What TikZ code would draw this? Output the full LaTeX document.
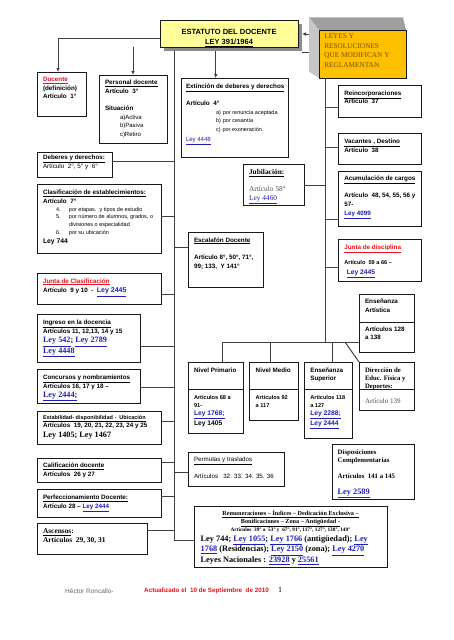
\documentclass[tikz,border=0pt]{standalone}
\usepackage{fontspec}
\setmainfont{Liberation Serif}
\newfontfamily\arial{Liberation Sans}
\usetikzlibrary{arrows.meta}
\definecolor{ttlfill}{HTML}{FFFF99}
\definecolor{org}{HTML}{FFC000}
\definecolor{brn}{HTML}{7A5000}
\definecolor{lnk}{HTML}{1F1FB4}
\definecolor{rdc}{HTML}{E3141B}
\definecolor{lnc}{HTML}{404040}
\definecolor{gtx}{HTML}{505050}
\newcommand\fsb[1]{\arial\bfseries\fontsize{6.3}{#1}\selectfont}
\newcommand\fsz[1]{\fontsize{#1}{#1}\selectfont}
\newcommand\lk[1]{\textcolor{lnk}{\underline{#1}}}
\newcommand\rdl[1]{\textcolor{rdc}{\underline{#1}}}
\newcommand\fLS{\rmfamily\bfseries\fontsize{8.2}{9}\selectfont}
\newcommand\bx[5]{\node[boxst, anchor=north west, minimum width={(#4-#2)*1pt}, minimum height={(#5-#3)*1pt}] (#1) at (#2,#3) {};}
\begin{document}
\begin{tikzpicture}[x=1pt,y=-1pt,
  boxst/.style={draw=black!90, line width=1pt, fill=white, inner sep=0pt, outer sep=0pt},
  divl/.style={draw=black!90, line width=1pt},
  conn/.style={draw=lnc, line width=1pt},
  arr/.style={conn, -{Latex[length=4pt,width=3.6pt]}},
  txt/.style={anchor=north west, inner sep=0pt, outer sep=0pt, align=left}]
\useasboundingbox (0,0) rectangle (453,640);
\fill[white] (0,0) rectangle (453,640);

% title
\fill[gray!90] (164,24) rectangle (302,51);
\node[boxst, fill=ttlfill, anchor=north west, minimum width=138pt, minimum height=27pt] (ttl) at (160,20) {};
\node[anchor=north, inner sep=0pt, align=center, font={\arial\bfseries\fontsize{7.5}{10}\selectfont}] (t-ttl) at (229,29.5) {ESTATUTO DEL DOCENTE\\\underline{LEY 391/1964}};

% leyes 3D box
\fill[gray!75] (309,17.3) -- (403,17.3) -- (406,30) -- (319,30) -- cycle;
\fill[gray!45] (309,17.3) -- (319,30) -- (319,78) -- (309,71.7) -- cycle;
\node[boxst, fill=org, anchor=north west, minimum width=87pt, minimum height=48pt] (leyes) at (319,30) {};
\node[txt, text=brn, font={\rmfamily\fontsize{7.3}{9.9}\selectfont}] (t-ley) at (324.3,33.3) {LEYES Y\\RESOLUCIONES\\QUE MODIFICAN Y\\REGLAMENTAN};

% boxes
\bx{doc}{37}{72}{86}{116}
\bx{pers}{99}{75}{167}{143}
\bx{ext}{181}{78}{288}{157}
\bx{deb}{37}{152}{112}{177}
\bx{clas}{37}{184}{161}{253}
\bx{junc}{37}{273}{161}{304}
\bx{ing}{37}{314}{140}{362}
\bx{conc}{37}{369}{140}{403}
\bx{estab}{37}{411}{161}{444}
\bx{calif}{37}{458}{161}{482}
\bx{perf}{37}{489}{161}{517}
\bx{asc}{37}{523}{147}{554}
\bx{esc}{188}{232}{263}{287}
\bx{jub}{243}{164}{304}{205}
\bx{rein}{338}{85}{421}{117}
\bx{vac}{338}{133}{421}{164}
\bx{acum}{338}{171}{421}{226}
\bx{jdis}{338}{239}{421}{281}
\bx{art}{359}{294}{414}{352}
\bx{dir}{359}{362}{414}{410}
\bx{prim}{188}{362}{243}{433}
\bx{med}{249}{362}{298}{420}
\bx{sup}{304}{362}{352}{438}
\bx{perm}{188}{452}{284}{486}
\bx{disp}{332}{444}{414}{499}
\bx{rem}{194}{506}{387}{567}

% dividers
\draw[divl] (art.west |- 0,322) -- (art.east |- 0,322);
\foreach \nm in {dir,prim,med,sup} \draw[divl] (\nm.west |- 0,389) -- (\nm.east |- 0,389);

% connectors: top
\draw[arr] (ttl.west |- 0,38) -| ([xshift=-3.5pt]doc.north);
\coordinate (PA) at (133,47);
\draw[arr] (PA) -- (pers.north);
\coordinate (EA) at (215.7,51);
\draw[arr] (EA) -- (EA |- ext.north);
\coordinate (LA) at (309,34);
\coordinate (TS) at (302,34);
\draw[arr] (LA) -- (TS);
\coordinate (LB1) at (302,52);
\coordinate (LB2) at (309,52);
\draw[conn] (LB1) -- (LB2);

% left trunk
\coordinate (LT) at (174,51);
\coordinate (LBt) at (174,540);
\draw[conn] (LT) -- (LBt) -- (rem.west |- LBt);
\foreach \nm/\yy in {deb/161, clas/216, junc/294, ing/346, conc/387, estab/421, calif/462, perf/496, asc/530}
  \draw[conn] (\nm.east |- 0,\yy) -- (LT |- 0,\yy);
\foreach \nm/\yy in {esc/247, perm/472}
  \draw[conn] (LT |- 0,\yy) -- (\nm.west |- 0,\yy);

% right trunk
\coordinate (RT) at (325,78);
\coordinate (RB) at (325,342);
\draw[conn] (RT) -- (RB);
\foreach \nm/\yy in {rein/107, vac/147, acum/219, jdis/267}
  \draw[conn] (RT |- 0,\yy) -- (\nm.west |- 0,\yy);
\draw[conn] (jub.east |- 0,185) -- (RT |- 0,185);
\coordinate (H1) at (222,342);
\coordinate (H2) at (270,342);
\coordinate (H3) at (332,342);
\coordinate (H4) at (345,342);
\draw[conn] (H1) -- (art.west |- H1);
\draw[conn] (H1) -- (H1 |- prim.north);
\draw[conn] (H2) -- (H2 |- med.north);
\draw[conn] (H3) -- (H3 |- sup.north);
\draw[conn] (H4) -- (dir.north west);

% texts
\node[txt, font=\fsb{8.4}] (t-doc) at (43,77.6) {\rdl{Docente}\\(definición)\\Artículo\ \ 1°};
\node[txt, font=\fsb{8.6}] (t-pers) at (105,80.3) {\underline{Personal docente}\\Artículo\ \ 3°\\[8.6pt]Situación\\\hspace*{15pt}{\mdseries\fsz{6}a)Activa}\\\hspace*{15pt}{\mdseries\fsz{6}b)Pasiva}\\\hspace*{15pt}{\mdseries\fsz{6}c)Retiro}};
\node[txt, font=\fsb{8.4}] (t-ext) at (186,84.3) {\underline{Extinción de deberes y derechos}\\[8.6pt]Artículo\ \ 4°\\{\mdseries\fsz{5.5}\hspace*{30pt}a)\hspace{2pt}por renuncia aceptada}\\{\mdseries\fsz{5.5}\hspace*{30pt}b)\hspace{2pt}por cesantía}\\{\mdseries\fsz{5.5}\hspace*{30pt}c)\hspace{2pt}por exoneración.}\\[1.9pt]{\mdseries\fsz{6}\lk{Ley 4448}}};
\node[txt, font=\fsb{9.4}] (t-deb) at (43,154.9) {\underline{Deberes y derechos:}\\{\mdseries Artículo\ \ 2°, 5° y\ \ 6°}};
\node[txt, font=\fsb{8.5}] (t-clas) at (43,189.9) {\underline{Clasificación de establecimientos:}\\Artículo\ \ 7°\\[-0.2pt]{\mdseries\fsz{5.5}\hspace*{13pt}\makebox[13pt][l]{4.}por etapas.\ \ y tipos de estudio}\\[-1pt]{\mdseries\fsz{5.5}\hspace*{13pt}\makebox[13pt][l]{5.}por número de alumnos, grados, o}\\[-0.5pt]{\mdseries\fsz{5.5}\hspace*{26pt}divisiones o especialidad}\\[-0.9pt]{\mdseries\fsz{5.5}\hspace*{13pt}\makebox[13pt][l]{6.}por su ubicación}\\[0.5pt]{\fsz{6.8}Ley 744}};
\node[txt, font=\fsb{9.7}] (t-junc) at (43,278.6) {\rdl{Junta de Clasificación}\\Artículo\ \ 9 y 10\ \ -\ \ {\fsz{7}\lk{Ley 2445}}};
\node[txt, font=\fsb{8.9}] (t-ing) at (43,319.9) {\underline{Ingreso en la docencia}\\Artículos 11, 12,13, 14 y 15\\[0.4pt]{\fLS\lk{Ley 542}; \lk{Ley 2789}}\\[0.4pt]{\fLS\lk{Ley 4448}}};
\node[txt, font=\fsb{9}] (t-conc) at (43,374.6) {\underline{Concursos y nombramientos}\\Artículos 16, 17 y 18 –\\[0.3pt]{\fLS\lk{Ley 2444;}}};
\node[txt, font=\fsb{9}] (t-est) at (43,415) {{\fsz{5.5}\underline{Estabilidad- disponibilidad -\ \ Ubicación}}\\[-0.3pt]Artículos\ \ 19, 20, 21, 22, 23, 24 y 25\\[0.3pt]{\rmfamily\fsz{8.2}Ley 1405; Ley 1467}};
\node[txt, font=\fsb{9}] (t-cal) at (43,463.3) {\underline{Calificación docente}\\Artículos\ \ 26 y 27};
\node[txt, font=\fsb{9}] (t-perf) at (43,494.9) {\underline{Perfeccionamiento Docente:}\\Artículo 28 – \lk{Ley 2444}};
\node[txt, font={\rmfamily\bfseries\fontsize{7.4}{8.7}\selectfont}] (t-asc) at (43,528.6) {\underline{Ascensos}:\\Artículos\ \ 29, 30, 31};
\node[txt, font=\fsb{8.4}] (t-esc) at (194,237.6) {\underline{Escalafón Docente}\\[9.3pt]Artículo 8°, 50°, 71°,\\99; 133,\ \ Y 141°};
\node[txt, font={\rmfamily\fontsize{7.4}{8.7}\selectfont}] (t-jub) at (249,169.2) {{\bfseries\underline{Jubilación:}}\\[8.3pt]{\color{gtx}Artículo 58°}\\\lk{Ley 4460}};
\node[txt, font=\fsb{8.4}] (t-rein) at (344.3,90.9) {\underline{Reincorporaciones}\\Artículo\ \ 37};
\node[txt, font=\fsb{8.4}] (t-vac) at (344.3,139.3) {\underline{Vacantes , Destino}\\Artículo\ \ 38};
\node[txt, font=\fsb{8.6}] (t-acum) at (344.3,176.3) {\underline{Acumulación de cargos}\\[8.4pt]Artículo\ \ 48, 54, 55, 56 y\\57-\\[0.4pt]\lk{Ley 4099}};
\node[txt, font=\fsb{9.3}] (t-jdis) at (344.3,244.9) {\rdl{Junta de disciplina}\\[6.1pt]{\fsz{5.6}Artículo\ \ 59 a 66 –}\\\hspace*{2.5pt}{\fsz{6.7}\lk{Ley 2445}}};
\node[txt, font=\fsb{8.9}] (t-art) at (365,298.9) {Enseñanza\\Artística\\[9.8pt]Artículos 128\\a 138};
\node[txt, font={\rmfamily\bfseries\fontsize{6.7}{8}\selectfont}] (t-dir) at (365,367.6) {Dirección de\\Educ. Física y\\Deportes:\\[7pt]{\mdseries\color{gtx}\fsz{7}Artículo 139}};
\node[txt, font=\fsb{8.3}] (t-prim) at (194,367.6) {Nivel Primario\\[19pt]{\fsz{5.6}Artículos 68 a}\\[-0.6pt]{\fsz{5.6}91-}\\[0.4pt]{\fsz{6.7}\lk{Ley 1768;}}\\[1.3pt]{\fsz{6.7}Ley 1405}};
\node[txt, font=\fsb{8.3}] (t-med) at (255.7,367.6) {Nivel Medio\\[19pt]{\fsz{5.6}Artículos 92}\\[-0.3pt]{\fsz{5.6}a 117}};
\node[txt, font=\fsb{8.8}] (t-sup) at (310.3,367.6) {Enseñanza\\Superior\\[9.5pt]{\fsz{5.6}Artículos 118}\\[-1pt]{\fsz{5.6}a 127}\\{\fsz{6.7}\lk{Ley 2288;}}\\[0.8pt]{\fsz{6.7}\lk{Ley 2444}}};
\node[txt, font={\arial\fontsize{6.2}{8.7}\selectfont}] (t-perm) at (194,456.9) {\underline{Permutas y traslados}\\[8.7pt]Artículos\ \ \ 32. 33. 34. 35. 36};
\node[txt, font={\rmfamily\bfseries\fontsize{6.8}{8}\selectfont}] (t-disp) at (337.7,449.6) {Disposiciones\\Complementarias\\[7.7pt]Artículos\ \ 141 a 145\\[8pt]{\fsz{8.3}\lk{Ley 2589}}};
\node[anchor=north, inner sep=0pt, align=center, font={\rmfamily\bfseries\fontsize{6.2}{7.7}\selectfont}] (t-rem1) at (290.5,510.3) {\underline{Remuneraciones – Índices – Dedicación Exclusiva –}\\\underline{Bonificaciones – Zona – Antigüedad -}\\[0.3pt]{\fsz{5.3}Artículos\ \ 39° a\ \ 53° y\ \ 67°, 91°, 117°, 127°, 138°, 140°}};
\node[txt, font={\rmfamily\bfseries\fontsize{8.3}{9.35}\selectfont}] (t-rem2) at (200.7,535.5) {Ley 744; \lk{Ley 1055}; \lk{Ley 1766} (antigüedad); \lk{Ley}\\\lk{1768} (Residencias); \lk{Ley 2150} (zona); \lk{Ley 4270}\\Leyes Nacionales : \lk{23928} y \lk{25561}};

% footer
\node[anchor=west, inner sep=0pt, font={\arial\fontsize{6.5}{8}\selectfont}, text=black!60] (f1) at (65,591) {Héctor Roncallo-};
\node[anchor=west, inner sep=0pt, font={\arial\bfseries\fontsize{6.3}{8}\selectfont}, text=rdc] (f2) at (144,591) {Actualizado el\ \ 10 de Septiembre\ \ de 2010};
\node[anchor=west, inner sep=0pt, font={\rmfamily\fontsize{8}{9}\selectfont}] (f3) at (278,590) {1};
\end{tikzpicture}
\end{document}
